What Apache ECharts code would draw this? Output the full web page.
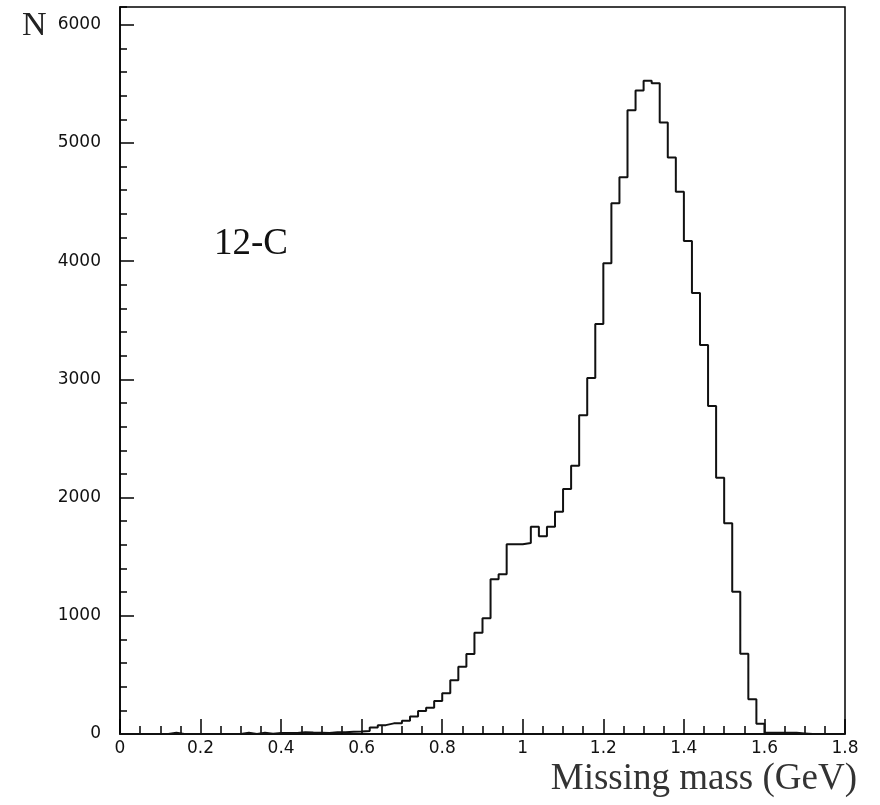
<!DOCTYPE html>
<html>
<head>
<meta charset="utf-8">
<script src="https://cdn.jsdelivr.net/npm/echarts@6/dist/echarts.min.js"></script>
<style>
  html, body { margin: 0; padding: 0; background: #ffffff; }
  #chart { width: 880px; height: 805px; }
</style>
</head>
<body>
<div id="chart"></div>
<script>
// Histogram of missing mass, 12-C target
const binLow = 0.0;          // GeV, low edge of first bin
const binWidth = 0.02;       // GeV
const counts = [
  0, 0, 0, 0, 0, 0, 10, 0, 0, 0,            // 0.00 - 0.20
  0, 0, 0, 0, 0, 10, 0, 10, 3, 8,           // 0.20 - 0.40
  8, 8, 15, 12, 10, 8, 15, 15, 20, 22,      // 0.40 - 0.60
  25, 55, 75, 90, 90, 113, 147, 195, 223, 279,        // 0.60 - 0.80
  344, 454, 569, 677, 857, 979, 1309, 1351, 1605, 1605, // 0.80 - 1.00
  1616, 1754, 1673, 1754, 1881, 2073, 2270, 2696, 3012, 3469, // 1.00 - 1.20
  3982, 4490, 4710, 5277, 5443, 5527, 5505, 5172, 4876, 4588, // 1.20 - 1.40
  4171, 3731, 3291, 2775, 2168, 1783, 1204, 679, 293, 87,     // 1.40 - 1.60
  10, 10, 10, 10, 5, 0, 0, 0, 0, 0          // 1.60 - 1.80
];
const xTickValues = [0, 0.2, 0.4, 0.6, 0.8, 1.0, 1.2, 1.4, 1.6, 1.8];
const yTickValues = [0, 1000, 2000, 3000, 4000, 5000, 6000];
const yLabel = 'N';
const xLabel = 'Missing mass (GeV)';
const targetLabel = '12-C';

// step-line points at bin low edges, closing at last bin's high edge
const histPoints = counts.map((c, i) => [binLow + i * binWidth, c]);
histPoints.push([binLow + counts.length * binWidth, counts[counts.length - 1]]);

const chart = echarts.init(document.getElementById('chart'), null, { renderer: 'canvas' });

const labelFont = { fontFamily: 'DejaVu Sans', fontSize: 17, color: '#111' };

chart.setOption({
  animation: false,
  backgroundColor: '#ffffff',
  title: [
    { text: yLabel, left: 17, top: 4,
      textStyle: { fontFamily: 'Liberation Serif', fontSize: 34, fontWeight: 'normal', color: '#222' } },
    { text: targetLabel, left: 209, top: 221,
      textStyle: { fontFamily: 'Liberation Serif', fontSize: 37, fontWeight: 'normal', color: '#111' } },
    { text: xLabel, right: 18, top: 756,
      textStyle: { fontFamily: 'Liberation Serif', fontSize: 37, fontWeight: 'normal', color: '#333' } }
  ],
  grid: {
    left: 120, right: 35, top: 7, bottom: 71,
    show: true, borderColor: '#000', borderWidth: 1.5, backgroundColor: 'transparent'
  },
  xAxis: {
    type: 'value', min: 0, max: 1.8, interval: 0.2,
    axisLine: { show: true, lineStyle: { color: '#000', width: 1.5 } },
    axisTick: { show: true, inside: true, length: 15, lineStyle: { color: '#000', width: 1.5 } },
    minorTick: { show: true, splitNumber: 4, length: 8, lineStyle: { color: '#000', width: 1.5 } },
    splitLine: { show: false },
    minorSplitLine: { show: false },
    axisLabel: Object.assign({ margin: 6,
      formatter: v => {
        const hit = xTickValues.find(t => Math.abs(t - v) < 1e-6);
        return hit === undefined ? '' : String(+hit.toFixed(1));
      } }, labelFont)
  },
  yAxis: [
    {
      type: 'value', min: 0, max: 6150, interval: 1000, position: 'left',
      axisLine: { show: true, lineStyle: { color: '#000', width: 1.5 } },
      axisTick: { show: true, inside: true, length: 14, lineStyle: { color: '#000', width: 1.5 } },
      splitLine: { show: false },
      axisLabel: Object.assign({ margin: 19, showMaxLabel: false,
        formatter: v => (yTickValues.indexOf(v) >= 0 ? String(v) : '') }, labelFont)
    },
    {
      type: 'value', min: 0, max: 6150, interval: 200, position: 'left', offset: 0,
      axisLine: { show: false },
      axisTick: { show: true, inside: true, length: 7, lineStyle: { color: '#000', width: 1.5 } },
      splitLine: { show: false },
      axisLabel: { show: false }
    }
  ],
  series: [{
    type: 'line',
    step: 'end',
    xAxisIndex: 0,
    yAxisIndex: 0,
    data: histPoints,
    showSymbol: false,
    symbol: 'none',
    lineStyle: { color: '#111', width: 2 },
    clip: true
  }]
});
</script>
</body>
</html>
